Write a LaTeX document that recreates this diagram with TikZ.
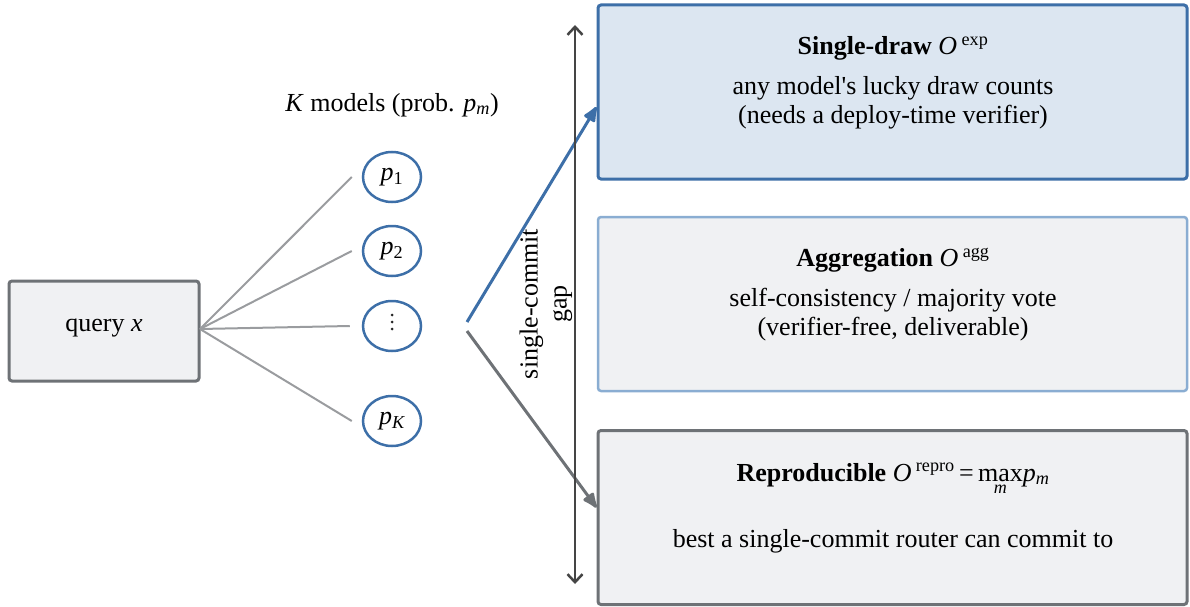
\documentclass[tikz,border=0pt]{standalone}
\usepackage{fontspec}
\setmainfont{Liberation Serif}
\usetikzlibrary{arrows.meta,shapes.geometric}
\definecolor{bblue}{HTML}{3D6FA8}
\definecolor{lblue}{HTML}{8AADD2}
\definecolor{bfill}{HTML}{DCE6F1}
\definecolor{gfill}{HTML}{F0F1F3}
\definecolor{gstroke}{HTML}{6E7276}
\definecolor{lgray}{HTML}{9A9C9F}
\definecolor{dgray}{HTML}{454545}
\newcommand{\maxm}{\vtop{\baselineskip0pt\lineskip4pt\lineskiplimit0pt\halign{\hfil##\hfil\cr max\cr{\fontsize{18}{18}\selectfont\itshape m}\cr}}}
\tikzset{
  txt/.style={font=\fontsize{26}{29}\selectfont, align=center, inner sep=0pt},
  box/.style={rectangle, rounded corners=3pt, line width=3pt, minimum width=589pt, minimum height=174pt, inner sep=0pt},
  qbox/.style={rectangle, rounded corners=3pt, line width=3pt, draw=gstroke, fill=gfill, minimum width=190pt, minimum height=100pt, inner sep=0pt},
  model/.style={ellipse, draw=bblue, line width=2.5pt, minimum width=58pt, minimum height=50pt, inner sep=0pt, font=\fontsize{26}{29}\selectfont},
  fan/.style={draw=lgray, line width=2pt},
  dotmark/.style={fill=black!85},
  blueconn/.style={draw=bblue, line width=3pt, -{Latex[length=19pt,width=15pt,round]}},
  grayconn/.style={draw=gstroke, line width=3pt, -{Latex[length=19pt,width=15pt,round]}},
  gaparrow/.style={draw=dgray, line width=2.5pt, {Straight Barb[length=8pt,width=15pt]}-{Straight Barb[length=8pt,width=15pt]}}
}
\begin{document}
\begin{tikzpicture}[x=1pt,y=-1pt]
\useasboundingbox (0,0) rectangle (1190,607);

% boxes
\node[box, draw=bblue, fill=bfill] (b1) at (892.5,92) {};
\node[box, draw=lblue, fill=gfill, line width=2.5pt] (b2) at (892.5,304) {};
\node[box, draw=gstroke, fill=gfill] (b3) at (892.5,517.5) {};

\node[txt] (t1) at (893,48) {\textbf{Single-draw} \textit{O}\,\textsuperscript{exp}};
\node[txt] (d1) at (893,103) {any model\textquotesingle s lucky draw counts\\(needs a deploy-time verifier)};
\node[txt] (t2) at (893,260) {\textbf{Aggregation} \textit{O}\,\textsuperscript{agg}};
\node[txt] (d2) at (893,315) {self-consistency / majority vote\\(verifier-free, deliverable)};
\node[txt, anchor=base] (t3) at (893,481) {\textbf{Reproducible} \textit{O}\,\textsuperscript{repro}\,=\,\maxm\textit{p}\textsubscript{\itshape m}};
\node[txt] (d3) at (893,541) {best a single-commit router can commit to};

% query
\node[qbox] (q) at (104,331) {};
\node[txt] (qt) at (104,328) {query \textit{x}};

% models
\node[txt] (kl) at (392,105) {\textit{K} models (prob. \textit{p}\textsubscript{\itshape m})};
\node[model] (e1) at (392,177) {\textit{p}\textsubscript{1}};
\node[model] (e2) at (392,251) {\textit{p}\textsubscript{2}};
\node[model] (e3) at (392,326) {};
\node[model] (e4) at (392,421) {\textit{p}\textsubscript{\itshape K}};
\fill[dotmark] ([yshift=11pt]e3.center) circle (1.5pt);
\fill[dotmark] ([yshift=4pt]e3.center) circle (1.5pt);
\fill[dotmark] ([yshift=-3pt]e3.center) circle (1.5pt);

\coordinate (qs) at (200,329);
\draw[fan] (qs) -- ([xshift=-10pt]e1.west);
\draw[fan] (qs) -- ([xshift=-10pt]e2.west);
\draw[fan] (qs) -- ([xshift=-12pt]e3.west);
\draw[fan] (qs) -- ([xshift=-10pt]e4.west);

% routing arrows
\coordinate (f1) at (467,322);
\coordinate (f2) at (467,331);
\draw[blueconn] (f1) -- ([yshift=-15pt]b1.west);
\draw[grayconn] (f2) -- ([yshift=10pt]b3.west);

% gap arrow
\coordinate (gt) at (575,25);
\coordinate (gb) at (575,584);
\draw[gaparrow] (gt) -- (gb);
\node[txt, rotate=90] (gl) at (546,304) {single-commit\\gap};
\end{tikzpicture}
\end{document}
